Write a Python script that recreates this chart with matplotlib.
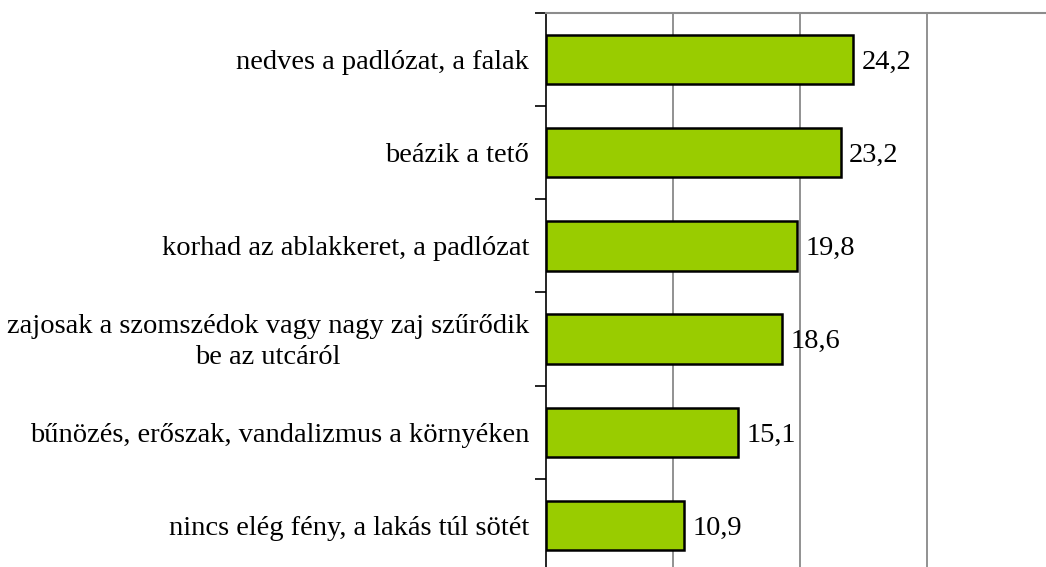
import matplotlib
matplotlib.use("Agg")
import matplotlib.pyplot as plt
import matplotlib.transforms as mtransforms

categories = [
    "nedves a padlózat, a falak",
    "beázik a tető",
    "korhad az ablakkeret, a padlózat",
    "zajosak a szomszédok vagy nagy zaj szűrődik\nbe az utcáról",
    "bűnözés, erőszak, vandalizmus a környéken",
    "nincs elég fény, a lakás túl sötét",
]
values = [24.2, 23.2, 19.8, 18.6, 15.1, 10.9]
value_labels = ["24,2", "23,2", "19,8", "18,6", "15,1", "10,9"]
grid_ticks = [10, 20, 30, 40]

plt.rcParams['font.family'] = ['Liberation Serif', 'DejaVu Serif']
FS = 20.5

W, H = 1046, 567
fig = plt.figure(figsize=(W / 100, H / 100), dpi=100)
left_px, right_px, top_px, bot_px = 546, 1046, 13, 572
ax = fig.add_axes([left_px / W, 1 - bot_px / H, (right_px - left_px) / W, (bot_px - top_px) / H])

n = len(categories)
ypos = list(range(n))
ax.barh(ypos, values, height=0.53, color="#99CC00", edgecolor="black", linewidth=1.8, zorder=3)
ax.set_ylim(n - 0.5, -0.5)
ax.set_xlim(0, (right_px - left_px) / 12.7)

for y, v, lab in zip(ypos, values, value_labels):
    ax.annotate(lab, (v, y), xytext=(6, -2), textcoords="offset points",
                ha="left", va="center", fontsize=FS, color="black")

# category labels
trans = mtransforms.blended_transform_factory(ax.transAxes, ax.transData)
for y, cat in zip(ypos, categories):
    ax.annotate(cat, (0, y), xycoords=trans, xytext=(-12, -2), textcoords="offset points",
                ha="right", va="center", multialignment="center", fontsize=FS,
                linespacing=1.3, color="black", annotation_clip=False)

# vertical gridlines
for g in grid_ticks:
    ax.axvline(g, color="#7f7f7f", linewidth=1.2, zorder=1)

ax.set_xticks([])
ax.set_yticks([i - 0.5 for i in range(n + 1)])
ax.set_yticklabels([])
ax.tick_params(axis="y", direction="out", length=8, width=1.2, color="black")

for s in ["right", "bottom"]:
    ax.spines[s].set_visible(False)
ax.spines["top"].set_color("#8c8c8c")
ax.spines["top"].set_linewidth(1.5)
ax.spines["left"].set_color("black")
ax.spines["left"].set_linewidth(1.2)

fig.savefig("out.png", dpi=100)
